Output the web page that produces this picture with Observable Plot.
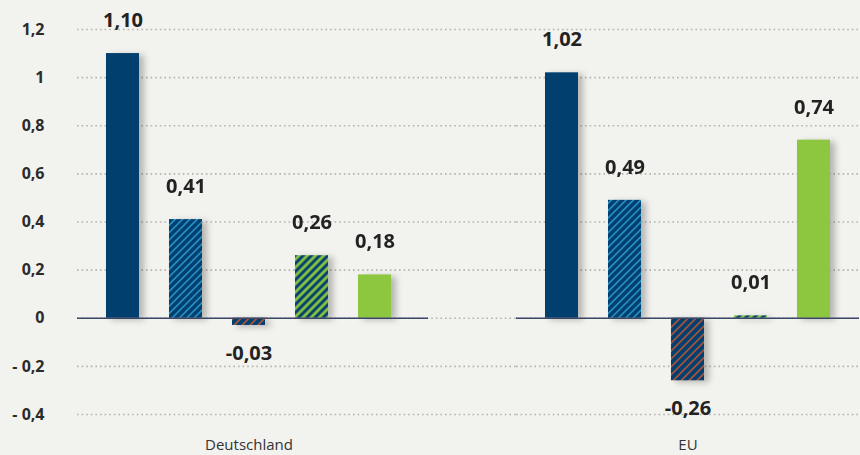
<!DOCTYPE html>
<html>
<head>
<meta charset="utf-8">
<script src="https://cdn.jsdelivr.net/npm/d3@7"></script>
<script src="https://cdn.jsdelivr.net/npm/@observablehq/plot@0.6"></script>
<style>
  html, body { margin: 0; padding: 0; background: #f2f2ee; }
  #chart svg { display: block; }
</style>
</head>
<body>
<div id="chart"></div>
<script>
const regions = ["Deutschland", "EU"];
const series = ["s1", "s2", "s3", "s4", "s5"];
const valuesDeutschland = [1.10, 0.41, -0.03, 0.26, 0.18];
const valuesEU = [1.02, 0.49, -0.26, 0.01, 0.74];
const seriesFills = ["#003f6e", "url(#hatch-blue)", "url(#hatch-orange)", "url(#hatch-green)", "#8dc63f"];
const yTicks = [-0.4, -0.2, 0, 0.2, 0.4, 0.6, 0.8, 1, 1.2];

const valuesByRegion = [valuesDeutschland, valuesEU];
const data = regions.flatMap((r, i) =>
  series.map((s, j) => ({ region: r, series: s, value: valuesByRegion[i][j], fill: seriesFills[j] }))
);
const gridDE = yTicks.map(t => ({ region: "Deutschland", t }));
const gridEU = yTicks.map(t => ({ region: "EU", t }));

const fmtValue = v => (v < 0 ? "-" : "") + Math.abs(v).toFixed(2).replace(".", ",");
const fmtTick = v => v === 0 ? "0" : (v < 0 ? "- " : "") + String(Math.abs(+v.toFixed(1))).replace(".", ",");

const gridStyle = { stroke: "#b3b3b0", strokeWidth: 1.6, strokeDasharray: "1.6,3", strokeLinecap: "butt" };
const font = "'Open Sans', 'Noto Sans', sans-serif";

const svg = Plot.plot({
  width: 860,
  height: 455,
  marginLeft: 76,
  marginRight: 0,
  marginTop: 29,
  marginBottom: 41,
  style: { background: "transparent", fontFamily: font, color: "#2b2b2b" },
  fx: { domain: regions, paddingInner: 0.218, paddingOuter: 0, label: null, axis: "bottom", tickSize: 0, tickPadding: 25 },
  x: { domain: series, paddingInner: 0.47, paddingOuter: 0.44, axis: null },
  y: { domain: [-0.4, 1.2], ticks: yTicks, tickFormat: fmtTick, tickSize: 0, tickPadding: 33, label: null },
  color: { type: "identity" },
  marks: [
    Plot.ruleY(gridDE, { fx: "region", y: "t", insetRight: -96, ...gridStyle }),
    Plot.ruleY(gridEU, { fx: "region", y: "t", ...gridStyle }),
    Plot.barY(data, { fx: "region", x: "series", y: "value", fill: "fill" }),
    Plot.ruleY([{ region: "Deutschland" }], { fx: "region", y: () => 0, insetRight: -8, stroke: "#3b4766", strokeWidth: 1.6 }),
    Plot.ruleY([{ region: "EU" }], { fx: "region", y: () => 0, stroke: "#3b4766", strokeWidth: 1.6 }),
    Plot.text(data.filter(d => d.value >= 0), {
      fx: "region", x: "series", y: "value", text: d => fmtValue(d.value),
      dy: -33, fontSize: 20, fontWeight: 700, fill: "#222"
    }),
    Plot.text(data.filter(d => d.value < 0), {
      fx: "region", x: "series", y: "value", text: d => fmtValue(d.value),
      dy: 28, fontSize: 20, fontWeight: 700, fill: "#222"
    })
  ]
});

// axis text styling
const root = d3.select(svg);
root.selectAll('[aria-label^="y-axis"] text')
  .attr("font-size", 16).attr("font-weight", 700).attr("fill", "#2b2b2b")
  .style("font-size", "16px").style("font-weight", "700");
root.selectAll('[aria-label^="fx-axis"] text')
  .attr("font-size", 15).attr("font-weight", 400).attr("fill", "#333")
  .style("font-size", "15px").style("font-weight", "400");

// hatch patterns
const navy = "#003f6e";
const defs = root.insert("defs", ":first-child");
function hatch(id, color, spacing, sw) {
  const p = defs.append("pattern")
    .attr("id", id)
    .attr("patternUnits", "userSpaceOnUse")
    .attr("width", spacing)
    .attr("height", spacing)
    .attr("patternTransform", "rotate(45)");
  p.append("rect").attr("width", spacing).attr("height", spacing).attr("fill", navy);
  p.append("line")
    .attr("x1", spacing / 2).attr("y1", 0)
    .attr("x2", spacing / 2).attr("y2", spacing)
    .attr("stroke", color).attr("stroke-width", sw);
}
hatch("hatch-blue", "#2fa6df", 5.2, 1.3);
hatch("hatch-orange", "#e8592b", 5.6, 1.3);
hatch("hatch-green", "#8dc63f", 5.8, 2.8);

root.selectAll('g[aria-label="bar"]')
  .style("filter", "drop-shadow(5px 2px 3px rgba(0,0,0,0.25))");

document.getElementById("chart").appendChild(svg);
</script>
</body>
</html>
